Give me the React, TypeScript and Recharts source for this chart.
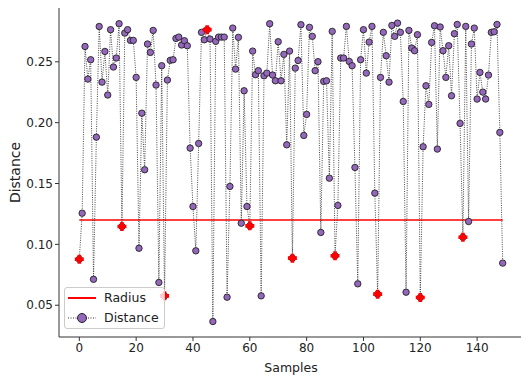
import { ComposedChart, Line, XAxis, YAxis, Legend } from "recharts"

// distance of each sample
const distances = [
  0.0878, 0.1256, 0.2626, 0.2358, 0.2517, 0.0713, 0.1881, 0.279, 0.2333, 0.2585,
  0.2227, 0.2764, 0.2457, 0.2531, 0.2813, 0.1147, 0.2736, 0.2764, 0.2676, 0.2676,
  0.2372, 0.0968, 0.2078, 0.1613, 0.2646, 0.2577, 0.2758, 0.2309, 0.0687, 0.2468,
  0.0577, 0.235, 0.2512, 0.2517, 0.2692, 0.2703, 0.2638, 0.2673, 0.2632, 0.1791,
  0.1311, 0.0947, 0.1829, 0.2742, 0.2681, 0.2764, 0.2687, 0.0366, 0.2668, 0.2703,
  0.2703, 0.2703, 0.0566, 0.1476, 0.2777, 0.244, 0.2701, 0.1174, 0.2262, 0.1311,
  0.1152, 0.2588, 0.2394, 0.2427, 0.0577, 0.2385, 0.2407, 0.2813, 0.2391, 0.2344,
  0.2665, 0.2344, 0.2561, 0.1818, 0.2588, 0.0887, 0.2448, 0.2511, 0.2805, 0.1895,
  0.2068, 0.2783, 0.2709, 0.2427, 0.2501, 0.1098, 0.2339, 0.2344, 0.1544, 0.275,
  0.0906, 0.132, 0.2531, 0.2531, 0.2791, 0.2503, 0.2468, 0.1632, 0.0676, 0.2517,
  0.2764, 0.2407, 0.2662, 0.2791, 0.1421, 0.0591, 0.2372, 0.2742, 0.255, 0.2333,
  0.2799, 0.2709, 0.2818, 0.2742, 0.2174, 0.0607, 0.2758, 0.2613, 0.2591, 0.2723,
  0.0563, 0.1802, 0.2303, 0.215, 0.2659, 0.2796, 0.1783, 0.2786, 0.2591, 0.2372,
  0.2632, 0.2221, 0.2731, 0.2807, 0.1994, 0.1059, 0.2791, 0.1188, 0.2646, 0.2777,
  0.2194, 0.2413, 0.2251, 0.2194, 0.2391, 0.2742, 0.2747, 0.2807, 0.192, 0.0846,
]

// samples highlighted with a red plus
const markedSamples = [0, 15, 30, 45, 60, 75, 90, 105, 120, 135]

const RADIUS = 0.12

const xTicks = [0, 20, 40, 60, 80, 100, 120, 140]
const yTicks = [0.05, 0.1, 0.15, 0.2, 0.25]

const legendOrder = ["Radius", "Distance"]

const chartData = distances.map((d, i) => ({
  sample: i,
  distance: d,
  radius: RADIUS,
  marked: markedSamples.includes(i) ? d : null,
}))

const font = "DejaVu Sans, sans-serif"
const purple = "#9467bd"

function PlusMarker(props: any) {
  const { cx, cy, value } = props
  if (value == null || cx == null || cy == null || isNaN(cy)) return <g key={props.key} />
  const a = 4.5
  const b = 1.8
  const d = `M${cx - b},${cy - a}H${cx + b}V${cy - b}H${cx + a}V${cy + b}H${cx + b}V${cy + a}H${cx - b}V${cy + b}H${cx - a}V${cy - b}H${cx - b}Z`
  return <path key={props.key} d={d} fill="#ff0000" />
}

function ChartLegend({ payload }: any) {
  const items = (payload ?? [])
    .filter((p: any) => legendOrder.includes(p.value))
    .sort((a: any, b: any) => legendOrder.indexOf(a.value) - legendOrder.indexOf(b.value))
  return (
    <div
      style={{
        border: "1px solid #cccccc",
        borderRadius: 3,
        background: "rgba(255,255,255,0.8)",
        padding: "0 5px 0 3px",
        fontFamily: font,
        fontSize: 12.5,
        color: "#222",
        lineHeight: "20px",
      }}
    >
      {items.map((item: any) => (
        <div key={item.value} style={{ display: "flex", alignItems: "center", height: 20 }}>
          <svg width={28} height={12}>
            {item.value === "Radius" ? (
              <line x1={0} y1={6} x2={28} y2={6} stroke="#ff0000" strokeWidth={2} />
            ) : (
              <g>
                <line x1={0} y1={6} x2={28} y2={6} stroke="#333" strokeWidth={1} strokeDasharray="1 1.5" />
                <circle cx={14} cy={6} r={4.5} fill={purple} stroke="#222" strokeWidth={1} />
              </g>
            )}
          </svg>
          <span style={{ marginLeft: 8 }}>{item.value}</span>
        </div>
      ))}
    </div>
  )
}

export default function App() {
  return (
    <div style={{ position: "absolute", left: 0, top: 0, width: 521, height: 375, overflow: "hidden", background: "#fff" }}>
      <ComposedChart width={523} height={375} data={chartData} margin={{ top: 8, right: 0, left: 0, bottom: 0 }}>
        <XAxis
          dataKey="sample"
          type="number"
          domain={[-7.15, 156.15]}
          ticks={xTicks}
          allowDataOverflow
          height={38}
          stroke="#333"
          tickSize={4}
          tick={{ fill: "#222", fontSize: 12, fontFamily: font }}
          label={{ value: "Samples", position: "insideBottom", offset: 3, fill: "#222", fontSize: 12.5, fontFamily: font }}
        />
        <YAxis
          type="number"
          domain={[0.0239, 0.2942]}
          ticks={yTicks}
          allowDataOverflow
          width={59}
          stroke="#333"
          tickSize={4}
          tickFormatter={(v: number) => v.toFixed(2)}
          tick={{ fill: "#222", fontSize: 12, fontFamily: font }}
          label={{
            value: "Distance",
            angle: -90,
            position: "insideLeft",
            offset: 15,
            fill: "#222",
            fontSize: 14,
            fontFamily: font,
            style: { textAnchor: "middle" },
          }}
        />
        <XAxis xAxisId="top" orientation="top" type="number" domain={[-7.15, 156.15]} height={0} tick={false} tickLine={false} stroke="#333" />
        <Line
          dataKey="radius"
          name="Radius"
          stroke="#ff0000"
          strokeWidth={1.6}
          dot={false}
          activeDot={false}
          isAnimationActive={false}
        />
        <Line
          dataKey="distance"
          name="Distance"
          type="linear"
          stroke="#333"
          strokeWidth={0.9}
          strokeDasharray="1 1.3"
          dot={{ r: 3.2, fill: purple, stroke: "#222", strokeWidth: 0.9, strokeDasharray: "" }}
          activeDot={false}
          isAnimationActive={false}
        />
        <Line
          dataKey="marked"
          name="Marked"
          stroke="none"
          legendType="none"
          dot={PlusMarker}
          activeDot={false}
          isAnimationActive={false}
        />
        <Legend
          layout="vertical"
          align="center"
          verticalAlign="middle"
          content={ChartLegend}
          wrapperStyle={{ left: 64, top: 287, width: "auto", height: "auto" }}
        />
      </ComposedChart>
    </div>
  )
}
